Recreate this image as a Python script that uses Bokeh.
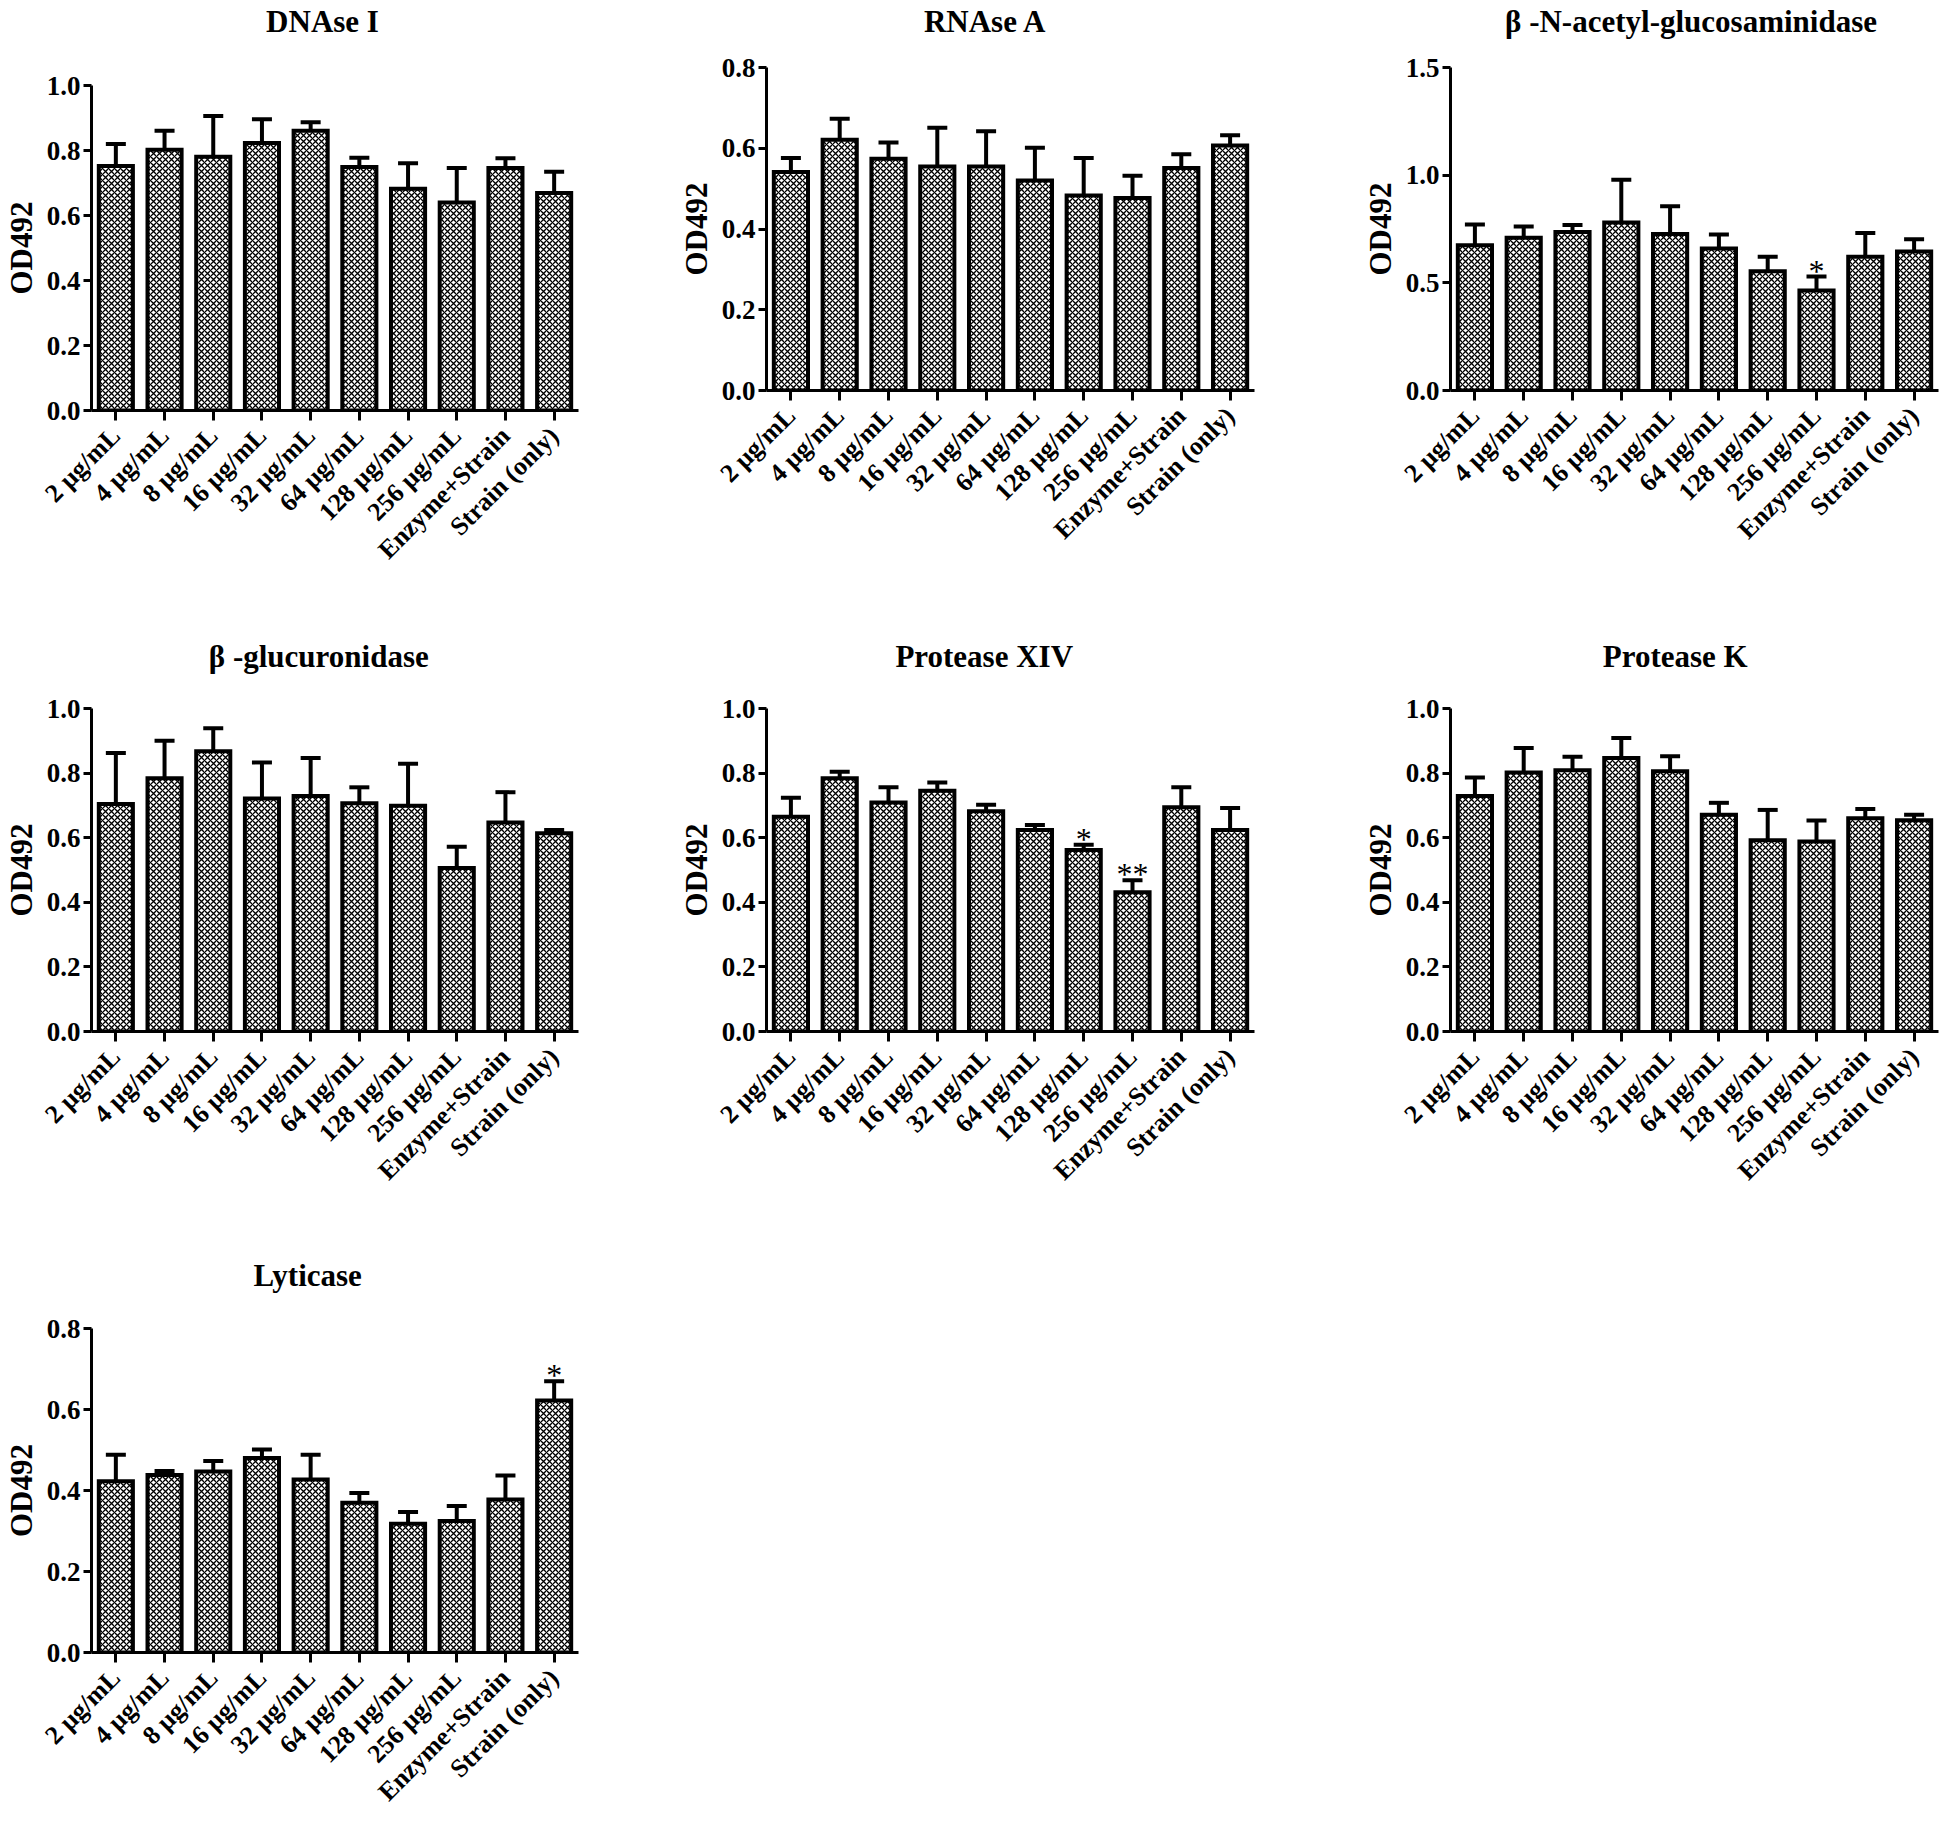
import math
from bokeh.plotting import figure
from bokeh.models import (ColumnDataSource, FactorRange, Range1d, FixedTicker,
                          PrintfTickFormatter, Whisker, TeeHead, Title)
from bokeh.layouts import column, row
from bokeh.core.properties import value
from bokeh.embed import file_html
from bokeh.resources import INLINE

# ---------------- data ----------------
categories = ["2 µg/mL", "4 µg/mL", "8 µg/mL", "16 µg/mL", "32 µg/mL", "64 µg/mL",
              "128 µg/mL", "256 µg/mL", "Enzyme+Strain", "Strain (only)"]

dnase_mean = [0.752, 0.802, 0.781, 0.823, 0.861, 0.749, 0.682, 0.640, 0.746, 0.669]
dnase_sd = [0.068, 0.059, 0.125, 0.073, 0.026, 0.029, 0.079, 0.106, 0.030, 0.066]
dnase_sig = ["", "", "", "", "", "", "", "", "", ""]

rnase_mean = [0.541, 0.621, 0.574, 0.555, 0.555, 0.520, 0.483, 0.477, 0.551, 0.607]
rnase_sd = [0.035, 0.052, 0.040, 0.096, 0.087, 0.081, 0.093, 0.055, 0.034, 0.025]
rnase_sig = ["", "", "", "", "", "", "", "", "", ""]

nag_mean = [0.674, 0.709, 0.736, 0.780, 0.727, 0.660, 0.554, 0.464, 0.621, 0.646]
nag_sd = [0.097, 0.053, 0.033, 0.199, 0.129, 0.064, 0.067, 0.065, 0.110, 0.056]
nag_sig = ["", "", "", "", "", "", "", "*", "", ""]

gluc_mean = [0.704, 0.784, 0.868, 0.721, 0.729, 0.707, 0.699, 0.506, 0.647, 0.614]
gluc_sd = [0.158, 0.116, 0.071, 0.112, 0.118, 0.049, 0.130, 0.066, 0.094, 0.010]
gluc_sig = ["", "", "", "", "", "", "", "", "", ""]

p14_mean = [0.665, 0.784, 0.709, 0.745, 0.682, 0.624, 0.562, 0.431, 0.694, 0.624]
p14_sd = [0.059, 0.020, 0.047, 0.026, 0.020, 0.015, 0.016, 0.037, 0.062, 0.068]
p14_sig = ["", "", "", "", "", "", "*", "**", "", ""]

pk_mean = [0.729, 0.802, 0.809, 0.847, 0.806, 0.671, 0.592, 0.588, 0.660, 0.654]
pk_sd = [0.057, 0.076, 0.042, 0.062, 0.046, 0.037, 0.094, 0.065, 0.029, 0.017]
pk_sig = ["", "", "", "", "", "", "", "", "", ""]

lyt_mean = [0.423, 0.438, 0.447, 0.480, 0.427, 0.370, 0.318, 0.325, 0.378, 0.622]
lyt_sd = [0.065, 0.010, 0.026, 0.021, 0.061, 0.024, 0.029, 0.037, 0.059, 0.048]
lyt_sig = ["", "", "", "", "", "", "", "", "", "*"]

titles = ["DNAse I", "RNAse A", "β -N-acetyl-glucosaminidase",
          "β -glucuronidase", "Protease XIV", "Protease K", "Lyticase"]
y_ticks_1 = [0.0, 0.2, 0.4, 0.6, 0.8, 1.0]
y_ticks_08 = [0.0, 0.2, 0.4, 0.6, 0.8]
y_ticks_15 = [0.0, 0.5, 1.0, 1.5]
y_label = "OD492"

SERIF = "Liberation Serif"
TITLE_PX = 31

# Times / Liberation Serif Bold advance widths (per 1000 em) to place titles
_W = {" ": 250, "(": 333, ")": 333, "+": 570, "-": 333, ".": 250, "/": 278,
      "A": 722, "D": 722, "E": 667, "I": 389, "K": 778, "L": 667, "N": 722,
      "P": 611, "R": 722, "S": 556, "V": 722, "X": 722, "a": 500, "c": 444,
      "d": 556, "e": 444, "g": 500, "i": 278, "l": 278, "m": 833, "n": 556,
      "o": 500, "r": 444, "s": 389, "t": 333, "u": 556, "y": 500, "β": 556}


def text_width(s, px):
    return sum(_W.get(ch, 500) for ch in s) * px / 1000.0


def panel(title, means, sds, sig, ticks, width, height, mb_l, mb_r, mb_t, mb_b,
          t_dx, t_gap):
    ymax = ticks[-1]
    p = figure(width=width, height=height, output_backend="svg", toolbar_location=None,
               x_range=FactorRange(*categories, range_padding=0),
               y_range=Range1d(0, ymax),
               min_border_left=mb_l, min_border_right=mb_r,
               min_border_top=mb_t, min_border_bottom=mb_b)
    p.frame_align = False
    p.outline_line_color = None
    p.grid.visible = False
    p.background_fill_color = "white"
    p.border_fill_color = "white"

    uppers = [m + s for m, s in zip(means, sds)]
    src = ColumnDataSource(dict(x=categories, top=means, upper=uppers, lower=means, sig=sig))

    p.add_layout(Whisker(base="x", upper="upper", lower="lower", source=src,
                         line_color="black", line_width=4, lower_head=None,
                         upper_head=TeeHead(size=20, line_width=4, line_color="black"),
                         level="underlay"))
    p.vbar(x="x", top="top", width=0.70, source=src, fill_color="white",
           line_color="black", line_width=4, line_join="miter",
           hatch_pattern="diagonal_cross", hatch_color="black",
           hatch_scale=6, hatch_weight=1.3)
    p.text(x="x", y="upper", text="sig", source=src, text_align="center",
           text_baseline="alphabetic", y_offset=-6, text_font=value(SERIF),
           text_font_size="32px", text_color="black")

    # spacer between frame and title (keeps the title high above the frame)
    p.add_layout(Title(text=" ", text_font_size="2px", standoff=t_gap,
                       text_color="white"), "above")

    # title
    frame_w = width - mb_l - mb_r
    p.title.text = title
    p.title.align = "left"
    p.title.offset = frame_w / 2 + t_dx - text_width(title, TITLE_PX) / 2
    p.title.vertical_align = "bottom"
    p.title.standoff = 0
    p.title.text_font = SERIF
    p.title.text_font_style = "bold"
    p.title.text_font_size = f"{TITLE_PX}px"
    p.title.text_color = "black"

    # axes
    for ax in (p.xaxis[0], p.yaxis[0]):
        ax.axis_line_width = 3
        ax.axis_line_color = "black"
        ax.major_tick_line_width = 3
        ax.major_tick_line_color = "black"
        ax.major_tick_in = 0
        ax.minor_tick_line_color = None
        ax.major_label_text_font = SERIF
        ax.major_label_text_font_style = "bold"
        ax.major_label_text_color = "black"

    p.xaxis.major_tick_out = 10
    p.xaxis.major_label_orientation = math.pi / 4
    p.xaxis.major_label_text_font_size = "26px"
    p.xaxis.major_label_standoff = 11

    p.yaxis.major_tick_out = 8
    p.yaxis.ticker = FixedTicker(ticks=ticks)
    p.yaxis.formatter = PrintfTickFormatter(format="%.1f")
    p.yaxis.major_label_text_font_size = "27px"
    p.yaxis.major_label_standoff = 3
    p.yaxis.axis_label = y_label
    p.yaxis.axis_label_text_font = SERIF
    p.yaxis.axis_label_text_font_style = "bold"
    p.yaxis.axis_label_text_font_size = "31px"
    p.yaxis.axis_label_standoff = 5
    p.yaxis.axis_label_text_color = "black"
    return p


# column boxes: [0,664) [664,1348) [1348,1943)
# row 1 (height 628)
p1 = panel(titles[0], dnase_mean, dnase_sd, dnase_sig, y_ticks_1,
           664, 628, 90, 86, 85, 218, -13, 43)
p2 = panel(titles[1], rnase_mean, rnase_sd, rnase_sig, y_ticks_08,
           684, 628, 102, 94, 67, 238, -25, 25)
p3 = panel(titles[2], nag_mean, nag_sd, nag_sig, y_ticks_15,
           595, 628, 102, 5, 67, 238, -3, 25)
# row 2 (height 620)
p4 = panel(titles[3], gluc_mean, gluc_sd, gluc_sig, y_ticks_1,
           664, 620, 90, 86, 80, 217, -16, 31)
p5 = panel(titles[4], p14_mean, p14_sd, p14_sig, y_ticks_1,
           684, 620, 102, 94, 80, 217, -26, 31)
p6 = panel(titles[5], pk_mean, pk_sd, pk_sig, y_ticks_1,
           595, 620, 102, 5, 80, 217, -19, 31)
# row 3
p7 = panel(titles[6], lyt_mean, lyt_sd, lyt_sig, y_ticks_08,
           664, 571, 90, 86, 80, 167, -27, 32)

layout = column(row(p1, p2, p3), row(p4, p5, p6), row(p7))

with open("out.html", "w") as f:
    f.write(file_html(layout, INLINE))
